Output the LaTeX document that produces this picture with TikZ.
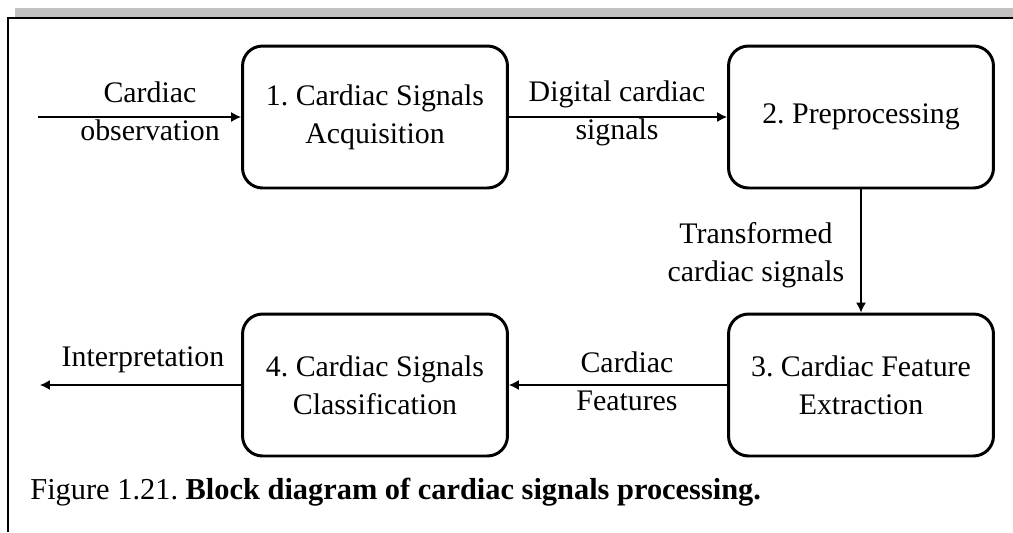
\documentclass[tikz,border=0pt]{standalone}
\usepackage{fontspec}
\setmainfont{Liberation Serif}
\frenchspacing
\usetikzlibrary{graphs,arrows.meta}
\tikzset{
    block/.style ={
        shape=rectangle,
        rounded corners=0.4cm,
        draw=black,
        line width=1.7pt,
        minimum width=5.3cm,
        minimum height=2.84cm,
        align=center,
        font=\fontsize{17}{21.5}\selectfont
    },
    lbl/.style ={
        align=center,
        inner sep=0pt,
        font=\fontsize{17}{21.5}\selectfont
    }
}

\begin{document}
\begin{tikzpicture}[x=0.02cm,y=-0.02cm,>={Latex[length=2mm,width=2mm]}]
    \useasboundingbox (0,0) rectangle (1013,532);
    \fill[black!24] (15,8) rectangle (1013,17);
    \draw[line width=0.8pt] (8,532) -- (8,18) -- (1013,18);
    \node[block] (acq) at(375,117) {1. Cardiac Signals\\Acquisition};
    \node[block] (prep) at(861,117) {2. Preprocessing};
    \node[block] (feat) at(861,385) {3. Cardiac Feature\\Extraction};
    \node[block] (class) at(375,385) {4. Cardiac Signals\\Classification};
    \coordinate (obs) at(38,117);
    \coordinate (interp) at(40,385);
    \node[lbl] at(150,111) {Cardiac\\observation};
    \node[lbl] at(617,113) {Digital cardiac\\signals};
    \node[lbl] at(756,255) {Transformed\\cardiac signals};
    \node[lbl] at(627,381) {Cardiac\\Features};
    \node[lbl] at(143,360) {Interpretation};
    \node[lbl,anchor=base west,font=\fontsize{17.3}{21}\selectfont] at(30,499) {Figure 1.21. \textbf{Block diagram of cardiac signals processing.}};
    \graph[edges={line width=0.7pt}]{
        (obs)->(acq)->(prep)->(feat)->(class)->(interp);
    };
\end{tikzpicture}
\end{document}
